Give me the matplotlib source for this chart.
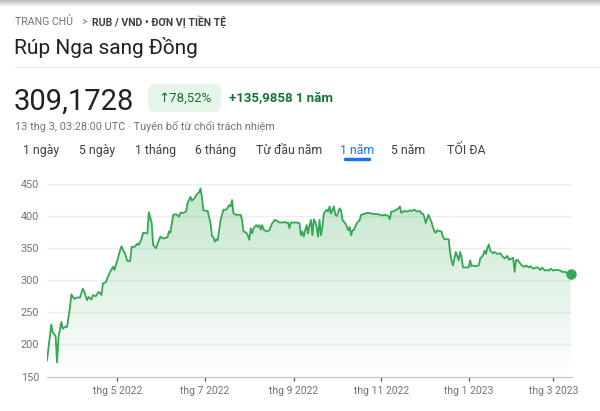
import matplotlib.pyplot as plt
import matplotlib.dates as mdates
import matplotlib.transforms as mtransforms
from matplotlib.colors import LinearSegmentedColormap
from matplotlib.patches import FancyBboxPatch
from matplotlib.lines import Line2D
import numpy as np
import pandas as pd

# data (days after the first point, RUB -> VND rate)
start_date = '2022-03-13'
day_offset = [0, 3, 4, 6, 7, 8, 10, 11, 13, 14, 16, 17, 19, 21, 23, 25, 26, 28, 29, 31,
              32, 34, 36, 38, 39, 41, 43, 44, 46, 47, 49, 51, 52, 53, 54, 56, 58, 59, 61, 63,
              64, 66, 67, 70, 71, 73, 74, 76, 79, 81, 84, 85, 86, 88, 90, 92, 93, 95, 97, 98,
              100, 101, 103, 104, 105, 106, 107, 108, 109, 112, 114, 115, 116, 117, 118, 119, 121, 122, 123, 125,
              127, 128, 129, 130, 132, 135, 136, 137, 139, 140, 141, 142, 143, 144, 146, 147, 148, 149, 150, 151,
              153, 155, 157, 159, 160, 162, 165, 166, 167, 168, 169, 170, 172, 174, 176, 177, 178, 179, 180, 181,
              182, 183, 184, 185, 186, 187, 188, 189, 190, 191, 192, 193, 195, 196, 197, 198, 200, 201, 202, 204,
              205, 206, 207, 208, 210, 211, 212, 213, 214, 216, 218, 219, 222, 224, 226, 229, 231, 233, 236, 238,
              239, 240, 241, 243, 245, 246, 247, 249, 251, 253, 254, 256, 258, 260, 261, 262, 263, 264, 265, 266,
              267, 268, 270, 271, 272, 273, 275, 276, 277, 279, 280, 281, 282, 283, 284, 285, 286, 287, 288, 289,
              290, 292, 294, 295, 296, 297, 299, 301, 302, 303, 304, 305, 306, 307, 308, 309, 311, 312, 314, 316,
              318, 319, 321, 322, 324, 325, 326, 327, 328, 330, 331, 333, 334, 336, 337, 339, 341, 342, 344, 345,
              347, 348, 350, 351, 353, 354, 356, 358, 359, 361, 363, 365]
rate = [175, 231, 219, 213, 172, 211, 235, 224.5, 228, 227, 258, 278, 271, 273, 273, 287, 282, 269, 274, 270,
        277, 275, 282, 277, 295, 297, 308, 313, 321, 316, 331, 347, 353, 347, 344, 330, 330, 352, 352, 357,
        355, 365, 374, 373, 406, 389, 355, 350, 368, 365, 367, 376, 374, 402, 403, 399, 405, 405, 407, 420,
        430, 424, 428, 433, 435, 437, 443, 430, 409, 408, 389, 369, 367, 360, 364, 362, 394, 402, 410, 410,
        417, 415, 425, 404, 402, 402, 394, 376, 374, 370, 363, 381, 373, 381, 386, 383, 386, 379, 386, 379,
        376, 378, 389, 394, 393, 390, 390, 391, 389, 390, 381, 390, 390, 390, 389, 370, 376, 368, 378, 386,
        373, 386, 394, 370, 395, 391, 383, 368, 394, 370, 383, 404, 410, 407, 415, 404, 415, 402, 400, 412,
        409, 394, 391, 389, 378, 383, 370, 378, 379, 389, 394, 402, 404, 405, 404, 403, 403, 401, 402, 400,
        395, 407, 407, 409, 412, 415, 405, 408, 407, 409, 408, 410, 407, 408, 404, 404, 399, 389, 396, 402,
        396, 391, 376, 374, 378, 377, 376, 368, 364, 364, 364, 344, 331, 323, 334, 344, 338, 331, 344, 336,
        320, 320, 320, 331, 322, 323, 322, 323, 334, 336, 339, 346, 341, 350, 356, 346, 342, 344, 341, 342,
        336, 334, 338, 332, 334, 335, 313, 331, 332, 326, 323, 321, 323, 320, 322, 318, 320, 320, 316, 320,
        315, 316, 315, 318, 315, 316, 316, 315, 313, 313, 311, 309.17]

tick_dates = ['2022-05-01', '2022-07-01', '2022-09-01', '2022-11-01', '2023-01-01', '2023-03-01']
tick_labels = ['thg 5 2022', 'thg 7 2022', 'thg 9 2022', 'thg 11 2022', 'thg 1 2023', 'thg 3 2023']
y_ticks = [150, 200, 250, 300, 350, 400, 450]
tabs = ['1 ngày', '5 ngày', '1 tháng', '6 tháng', 'Từ đầu năm', '1 năm', '5 năm', 'TỐI ĐA']
tab_x = [41, 97, 156, 216, 289, 357, 408, 466]

plt.rcParams['font.family'] = ['Roboto', 'DejaVu Sans']

W, H = 600, 411
fig = plt.figure(figsize=(W / 100, H / 100), dpi=100)
fig.patch.set_facecolor('white')

# pixel coordinates, origin at top left
pix = mtransforms.Affine2D().scale(1 / W, -1 / H).translate(0, 1) + fig.transFigure

# shadow along the top edge
sh = fig.add_axes([0, 1 - 7 / H, 1, 7 / H])
sh.imshow(np.linspace(0, 1, 50).reshape(-1, 1), aspect='auto', cmap=LinearSegmentedColormap.from_list('s', ['#b8b8b8', '#ffffff']), extent=[0, 1, 0, 1], origin='upper')
sh.axis('off')

green = '#137333'

fig.text(15, 22, 'TRANG CHỦ', transform=pix, fontsize=7.6, color='#70757a', va='center')
fig.text(81, 22, '>', transform=pix, fontsize=7.6, color='#70757a', va='center')
fig.text(92, 22, 'RUB / VND • ĐƠN VỊ TIỀN TỆ', transform=pix, fontsize=7.6, color='#3c4043', va='center', fontweight='bold')
fig.text(14, 47, 'Rúp Nga sang Đồng', transform=pix, fontsize=15, color='#202124', va='center')
fig.add_artist(Line2D([15, 600], [67, 67], transform=pix, color='#e8eaed', lw=1))

fig.text(14, 110, '309,1728', transform=pix, fontsize=21, color='#202124', va='baseline')
fig.add_artist(FancyBboxPatch((148, 84), 73, 28, boxstyle='round,pad=0,rounding_size=7', transform=pix, facecolor='#e6f4ea', edgecolor='none'))
fig.text(184.5, 98, '↑78,52%', transform=pix, fontsize=9.5, color=green, ha='center', va='center')
fig.text(229, 98, '+135,9858 1 năm', transform=pix, fontsize=9.5, color=green, va='center', fontweight='bold')
fig.text(15, 126, '13 thg 3, 03:28:00 UTC · Tuyên bố từ chối trách nhiệm', transform=pix, fontsize=7.8, color='#70757a', va='center')

for label, x in zip(tabs, tab_x):
    selected = label == '1 năm'
    fig.text(x, 150, label, transform=pix, fontsize=8.8, color='#1a73e8' if selected else '#3c4043', ha='center', va='center')
fig.add_artist(Line2D([345, 369], [159, 159], transform=pix, color='#1a73e8', lw=2.5, solid_capstyle='round'))

# chart
ax = fig.add_axes([47 / W, (H - 376.5) / H, 525 / W, 192.5 / H])
dates = pd.Timestamp(start_date) + pd.to_timedelta(day_offset, unit='D')
xs = mdates.date2num(dates)
x0 = mdates.date2num(pd.Timestamp(start_date))
ax.set_xlim(x0, x0 + 366)
ax.set_ylim(150, 450)

fill = ax.fill_between(xs, rate, 150, color='none', lw=0)
cmap = LinearSegmentedColormap.from_list('g', [(0.2, 0.66, 0.33, 0.0), (0.2, 0.66, 0.33, 0.3)])
grad = ax.imshow(np.linspace(0, 1, 256).reshape(-1, 1), aspect='auto', cmap=cmap, origin='lower',
                 extent=[x0, x0 + 366, 150, 450], zorder=1)
grad.set_clip_path(fill.get_paths()[0], transform=ax.transData)

ax.plot(xs, rate, color='#34a853', lw=1.3, zorder=3)
ax.plot(xs[-1], rate[-1], 'o', color='#34a853', ms=6.5, zorder=4, clip_on=False)

ax.set_yticks(y_ticks)
ax.set_yticklabels([str(v) for v in y_ticks])
ax.set_xticks(mdates.date2num(pd.to_datetime(tick_dates)))
ax.set_xticklabels(tick_labels)
ax.grid(axis='y', color='#eeeeee', lw=1)
ax.set_axisbelow(True)
for s in ['top', 'right', 'left']:
    ax.spines[s].set_visible(False)
ax.spines['bottom'].set_color('#c0c0c0')
ax.tick_params(axis='y', length=0, pad=5.5, labelsize=7.8, labelcolor='#70757a')
ax.tick_params(axis='x', length=3, width=1, color='#5f6368', pad=4, labelsize=7.5, labelcolor='#70757a')

fig.savefig('out.png', dpi=100)
